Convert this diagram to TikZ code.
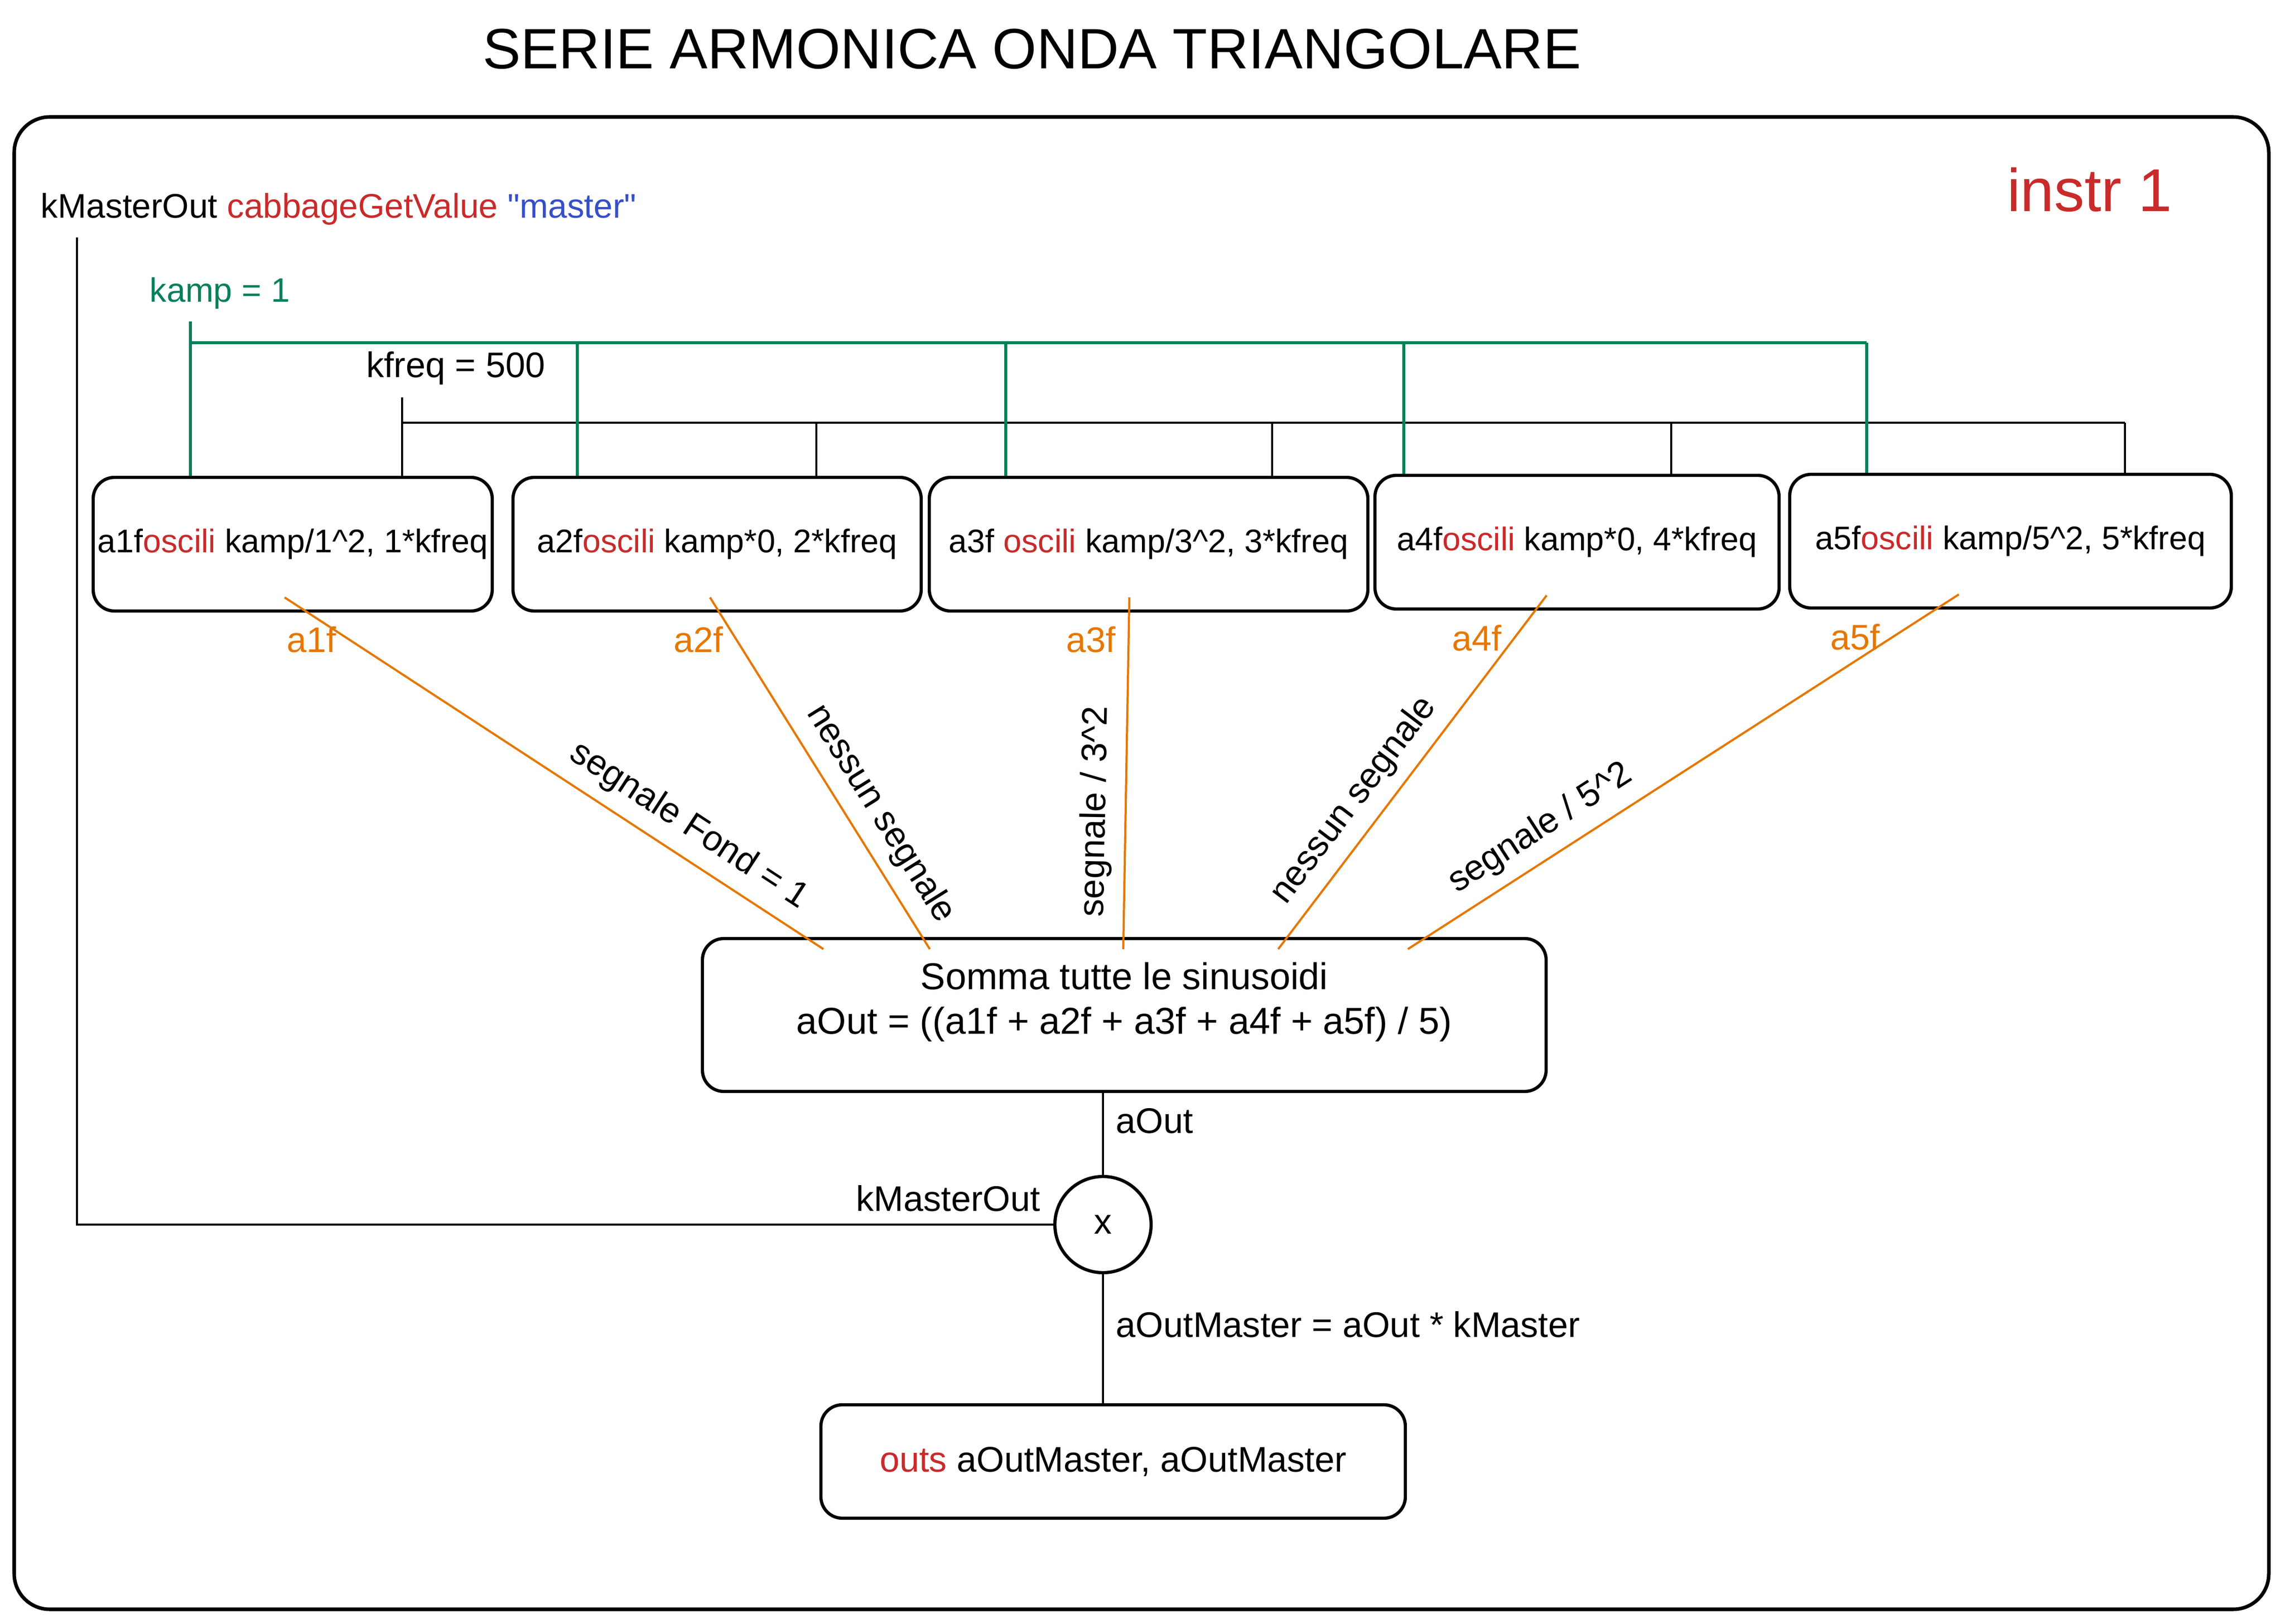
\documentclass[tikz,border=0pt]{standalone}
\usepackage{fontspec}
\setmainfont{Liberation Sans}
\usepackage{tikz}
\usetikzlibrary{calc}

\definecolor{codered}{HTML}{C92A2A}
\definecolor{codeblue}{HTML}{364FC7}
\definecolor{ampgreen}{HTML}{087F5B}
\definecolor{sigorange}{HTML}{E67700}
\newcommand{\opc}[1]{\textcolor{codered}{#1}}

\begin{document}
\begin{tikzpicture}[
    box/.style={draw, rounded corners=6pt, line width=0.9pt, inner sep=1pt, minimum height=1.32cm},
    osc/.style={box, font=\fontsize{9.2}{11}\selectfont},
    lbl/.style={text=black, font=\fontsize{10}{12}\selectfont},
    wire/.style={line width=0.7pt},
    amp/.style={ampgreen, line width=0.8pt},
    sig/.style={sigorange, line width=0.6pt},
    siglbl/.style={sigorange, font=\fontsize{10}{12}\selectfont},
    mult/.style={draw, circle, line width=0.9pt, minimum size=0.95cm, inner sep=0pt}
  ]
  \useasboundingbox (0,0) rectangle (22.56,16.035);

  % title and frame
  \node[font=\fontsize{16}{19}\selectfont] (title) at (10.19,15.55) {SERIE ARMONICA ONDA TRIANGOLARE};
  \draw[line width=1pt, rounded corners=10pt] (0.14,0.14) rectangle (22.40,14.88);
  \node[font=\fontsize{17}{20}\selectfont, codered] (instr) at (20.63,14.16) {instr 1};

  % variables
  \node[anchor=west, font=\fontsize{9.6}{11}\selectfont] (code) at (0.28,13.97) {kMasterOut \opc{cabbageGetValue} \textcolor{codeblue}{\textquotedbl master\textquotedbl}};
  \node[font=\fontsize{9.5}{11}\selectfont, ampgreen] (kamp) at (2.17,13.14) {kamp = 1};
  \node[lbl] (kfreq) at (4.50,12.40) {kfreq = 500};

  % oscillators
  \node[osc, minimum width=3.94cm] (osc1) at (2.89,10.66) {a1f\opc{oscili} kamp/1\textasciicircum 2, 1*kfreq};
  \node[osc, minimum width=4.03cm] (osc2) at (7.08,10.66) {a2f\opc{oscili} kamp*0, 2*kfreq};
  \node[osc, minimum width=4.33cm] (osc3) at (11.34,10.66) {a3f \opc{oscili} kamp/3\textasciicircum 2, 3*kfreq};
  \node[osc, minimum width=3.99cm] (osc4) at (15.57,10.68) {a4f\opc{oscili} kamp*0, 4*kfreq};
  \node[osc, minimum width=4.36cm] (osc5) at (19.85,10.69) {a5f\opc{oscili} kamp/5\textasciicircum 2, 5*kfreq};

  % sum, multiply, output
  \node[box, minimum width=8.33cm, minimum height=1.51cm, align=center, text depth=0.33cm, font=\fontsize{10.5}{12.5}\selectfont] (somma) at (11.10,6.01)
    {Somma tutte le sinusoidi\\aOut = ((a1f + a2f + a3f + a4f + a5f) / 5)};
  \node[mult, lbl] (mul) at (10.89,3.94) {x};
  \node[box, lbl, minimum width=5.77cm, minimum height=1.12cm] (outs) at (10.99,1.60) {\opc{outs} aOutMaster, aOutMaster};

  % amplitude and frequency buses
  \foreach \n/\x in {1/1.88, 2/5.70, 3/9.93, 4/13.86, 5/18.43}
    \coordinate (g\n) at (\x,12.65);
  \foreach \n/\x in {1/3.97, 2/8.06, 3/12.56, 4/16.50, 5/20.98}
    \coordinate (f\n) at (\x,11.86);
  \draw[amp] (kamp.south -| g1) -- (g1) -- (g5);
  \draw[wire] (kfreq.south -| f1) -- (f1) -- (f5);
  \foreach \n in {1,...,5} {
    \draw[amp] (g\n) -- (g\n |- osc\n.north);
    \draw[wire] (f\n) -- (f\n |- osc\n.north);
  }

  % harmonics into the sum
  \foreach \i/\sx/\ex/\p/\txt in {1/-0.08/-2.97/0.72/{segnale Fond = 1},
                                  2/-0.07/-1.92/0.66/{nessun segnale},
                                  3/-0.19/-0.01/0.61/{segnale / 3\textasciicircum 2},
                                  4/-0.30/1.52/0.63/{nessun segnale},
                                  5/-0.51/2.80/0.73/{segnale / 5\textasciicircum 2}}
    \draw[sig] ($(osc\i.south)+(\sx,0.15)$) -- ($(somma.north)+(\ex,-0.12)$)
      node[pos=0.12, left, siglbl] {a\i f}
      node[pos=\p, sloped, above, lbl] {\txt};

  % master gain and output
  \coordinate (kcorner) at (0.76,3.94);
  \draw[wire] (code.south -| kcorner) -- (kcorner) -- (mul.west)
    node[pos=1, above left, lbl] {kMasterOut};
  \draw[wire] (mul.north |- somma.south) -- (mul.north)
    node[pos=0.34, right, lbl] {aOut};
  \draw[wire] (mul.south) -- (mul.south |- outs.north)
    node[pos=0.39, right, lbl] {aOutMaster = aOut * kMaster};
\end{tikzpicture}
\end{document}
